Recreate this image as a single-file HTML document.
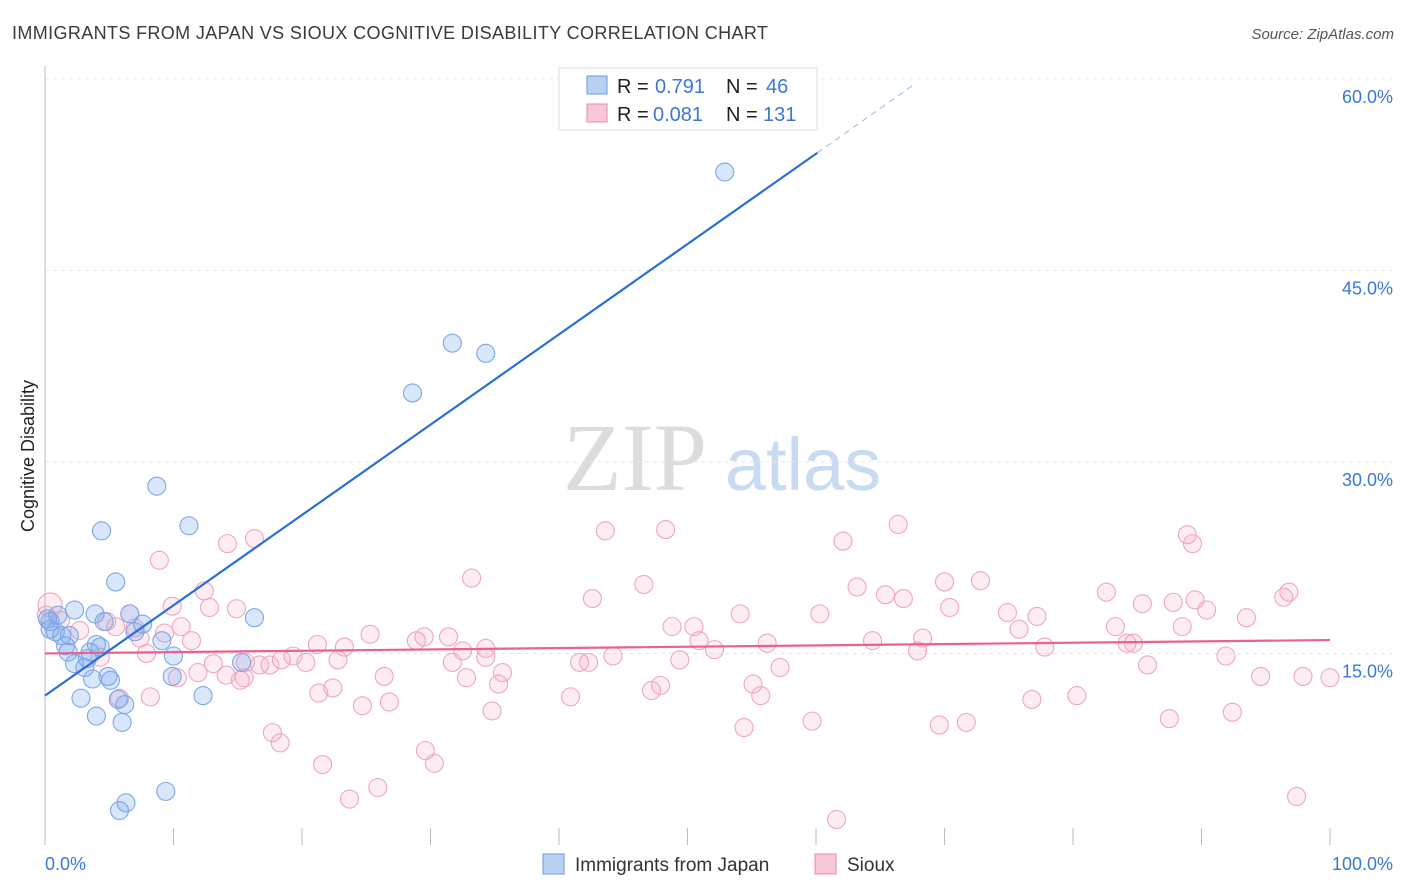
<!DOCTYPE html>
<html><head><meta charset="utf-8">
<style>
body{margin:0;background:#fff;font-family:"Liberation Sans",sans-serif;}
svg{display:block}
</style></head>
<body>
<svg id="chart" width="1406" height="892" xmlns="http://www.w3.org/2000/svg">
<text x="12" y="39" font-size="18" fill="#3a3a3a" letter-spacing="0.37">IMMIGRANTS FROM JAPAN VS SIOUX COGNITIVE DISABILITY CORRELATION CHART</text>
<text x="1394" y="39" font-size="15" fill="#555" font-style="italic" text-anchor="end">Source: ZipAtlas.com</text>
<text transform="translate(34,456) rotate(-90)" font-size="18" fill="#222" text-anchor="middle">Cognitive Disability</text>
<g>
<text x="635" y="490" font-size="96" fill="#dcdcdc" font-family="Liberation Serif,serif" text-anchor="middle">ZIP</text>
<text x="803" y="490" font-size="74" fill="#c9dbf0" text-anchor="middle">atlas</text>
</g>
<g id="grid"></g>
<g id="axes"></g>
<g id="pinkPts"></g>
<g id="bluePts"></g>
<g id="trends"></g>
<g>
<rect x="559" y="68" width="258" height="62" fill="#fff" stroke="#ddd"/>
<rect x="587" y="76" width="20" height="18" fill="#b8d1f3" stroke="#6a9ae0"/>
<text y="93" font-size="20" fill="#222"><tspan x="617">R =</tspan><tspan x="655" fill="#3a78d8">0.791</tspan><tspan x="726">N =</tspan><tspan x="766" fill="#3a78d8">46</tspan></text>
<rect x="587" y="104" width="20" height="18" fill="#f8c8d6" stroke="#e88aa8"/>
<text y="121" font-size="20" fill="#222"><tspan x="617">R =</tspan><tspan x="653" fill="#3a78d8">0.081</tspan><tspan x="726">N =</tspan><tspan x="763" fill="#3a78d8">131</tspan></text>
</g>
<g>
<rect x="543" y="854" width="21" height="20" fill="#b8d1f3" stroke="#6a9ae0"/>
<text x="575" y="871" font-size="19" fill="#333">Immigrants from Japan</text>
<rect x="815" y="854" width="21" height="20" fill="#f8c8d6" stroke="#e88aa8"/>
<text x="847" y="871" font-size="19" fill="#333">Sioux</text>
</g>
</svg>
<script>
const yTicks=[15,30,45,60];
const xTickLabels=["0.0%","100.0%"];
const blueX=[52.9,31.7,34.3,28.6,8.7,11.2,4.4,5.5,16.3,6.6,2.3,7.6,4.6,7.0,0.4,0.8,1.3,9.1,4.0,1.8,3.5,10.0,15.3,2.3,3.1,4.9,9.9,5.1,3.7,2.8,5.7,6.2,12.3,4.0,6.0,9.4,6.3,5.8,0.4,1.0,3.9,0.2,1.6,3.3,1.9,4.3];
const blueY=[52.7,39.3,38.5,35.4,28.1,25.0,24.6,20.6,17.8,18.1,18.4,17.3,17.5,16.7,17.5,16.7,16.4,16.0,15.7,15.1,15.1,14.8,14.3,14.2,13.9,13.2,13.2,12.9,13.0,11.5,11.4,11.0,11.7,10.1,9.6,4.2,3.3,2.7,16.9,18.0,18.1,17.7,15.6,14.6,16.4,15.5];
const pinkX=[66.4,43.6,48.3,88.9,89.3,62.1,16.3,14.2,8.9,33.2,46.6,70.0,72.8,63.2,82.6,65.4,66.8,42.6,96.8,96.4,12.4,9.9,12.8,14.9,70.4,85.4,87.8,89.5,90.4,54.1,60.3,74.9,77.2,93.5,6.6,4.8,7.0,48.8,50.5,83.3,88.5,75.8,10.6,9.3,11.4,25.3,31.4,28.9,29.5,50.9,56.2,64.4,68.3,84.2,84.7,77.8,67.9,52.1,21.2,23.3,32.5,34.3,44.2,7.9,4.3,19.3,20.3,18.4,15.6,16.7,34.3,31.7,22.8,13.1,41.6,42.3,49.4,91.9,85.8,35.6,32.8,26.4,14.1,15.2,11.9,10.3,57.2,15.5,35.3,22.4,55.1,47.9,47.2,94.6,97.9,100,21.3,40.9,55.7,76.8,80.3,8.2,5.8,26.8,24.7,34.8,59.7,69.6,71.7,87.5,92.4,54.4,17.7,18.3,29.6,30.3,21.6,25.9,23.7,97.4,61.6,0.4,0.1,1.2,2.7,5.5,7.4,17.5];
const pinkY=[25.1,24.6,24.7,24.3,23.6,23.8,24.0,23.6,22.3,20.9,20.4,20.6,20.7,20.2,19.8,19.6,19.3,19.3,19.8,19.4,19.9,18.7,18.6,18.5,18.6,18.9,19.0,19.2,18.4,18.1,18.1,18.2,17.9,17.8,18.1,17.5,17.0,17.1,17.1,17.1,17.1,16.9,17.1,16.6,16.0,16.5,16.3,16.0,16.3,16.0,15.8,16.0,16.2,15.8,15.8,15.5,15.2,15.3,15.7,15.5,15.2,15.4,14.8,15.0,14.7,14.8,14.3,14.5,14.3,14.1,14.7,14.3,14.5,14.2,14.3,14.3,14.5,14.8,14.1,13.5,13.1,13.2,13.3,12.9,13.5,13.1,13.9,13.1,12.6,12.3,12.6,12.5,12.1,13.2,13.2,13.1,11.9,11.6,11.7,11.4,11.7,11.6,11.5,11.2,10.9,10.5,9.7,9.4,9.6,9.9,10.4,9.2,8.8,8.0,7.4,6.4,6.3,4.5,3.6,3.8,2.0,18.8,18.0,17.6,16.8,17.1,16.2,14.1];
const blueTrend=[11.7,54.2,59.6];
const blueTrendX=[0,60.1,67.7];
const pinkTrend=[15.0,16.05];
const pinkTrendX=[0,100];

const NS="http://www.w3.org/2000/svg";
const X=v=>45+v*12.85;
const Y=v=>845-v*12.77;
function mk(tag,attrs,parent){const e=document.createElementNS(NS,tag);for(const k in attrs)e.setAttribute(k,attrs[k]);parent.appendChild(e);return e;}
const grid=document.getElementById('grid'),axes=document.getElementById('axes');
yTicks.forEach(t=>{
  const l=mk('line',{x1:45,x2:1394,y1:Y(t),y2:Y(t),stroke:'#e6e6e6','stroke-dasharray':'4,4'},grid);
  
  
  const tx=mk('text',{x:1393,y:Y(t)+24,'font-size':18,fill:'#3a78d8','text-anchor':'end'},axes);
  tx.textContent=t.toFixed(1)+'%';
  
  
});
const la=mk('line',{x1:45,x2:45,y1:66,y2:845,stroke:'#bbb'},axes);


for(let i=0;i<=10;i++){
  const t=mk('line',{x1:X(i*10),x2:X(i*10),y1:828,y2:845,stroke:'#bbb'},axes);
  
  
}
const xl0=mk('text',{x:45,y:870,'font-size':18,fill:'#3a78d8'},axes);xl0.textContent=xTickLabels[0];


const xl1=mk('text',{x:1393,y:870,'font-size':18,fill:'#3a78d8','text-anchor':'end'},axes);xl1.textContent=xTickLabels[1];



const pg=document.getElementById('pinkPts');
pinkX.forEach((x,i)=>{
  const c=mk('circle',{cx:X(x),cy:Y(pinkY[i]),r:i===121?12:9,fill:'rgba(244,160,188,0.2)',stroke:'#f0a6bf','stroke-width':1.1},pg);
  
  
});
const bg=document.getElementById('bluePts');
blueX.forEach((x,i)=>{
  const c=mk('circle',{cx:X(x),cy:Y(blueY[i]),r:9,fill:'rgba(120,168,238,0.28)',stroke:'#7ea6e6','stroke-width':1.1},bg);
  
  
});
const tg=document.getElementById('trends');
const pl=mk('line',{x1:X(pinkTrendX[0]),y1:Y(pinkTrend[0]),x2:X(pinkTrendX[1]),y2:Y(pinkTrend[1]),stroke:'#e8628c','stroke-width':2.2},tg);


const bl=mk('line',{x1:X(blueTrendX[0]),y1:Y(blueTrend[0]),x2:X(blueTrendX[1]),y2:Y(blueTrend[1]),stroke:'#2a6fd6','stroke-width':2.2},tg);


const bd=mk('line',{x1:X(blueTrendX[1]),y1:Y(blueTrend[1]),x2:X(blueTrendX[2]),y2:Y(blueTrend[2]),stroke:'#9dbbea','stroke-width':1.1,'stroke-dasharray':'6,5'},tg);


</script>
</body></html>
